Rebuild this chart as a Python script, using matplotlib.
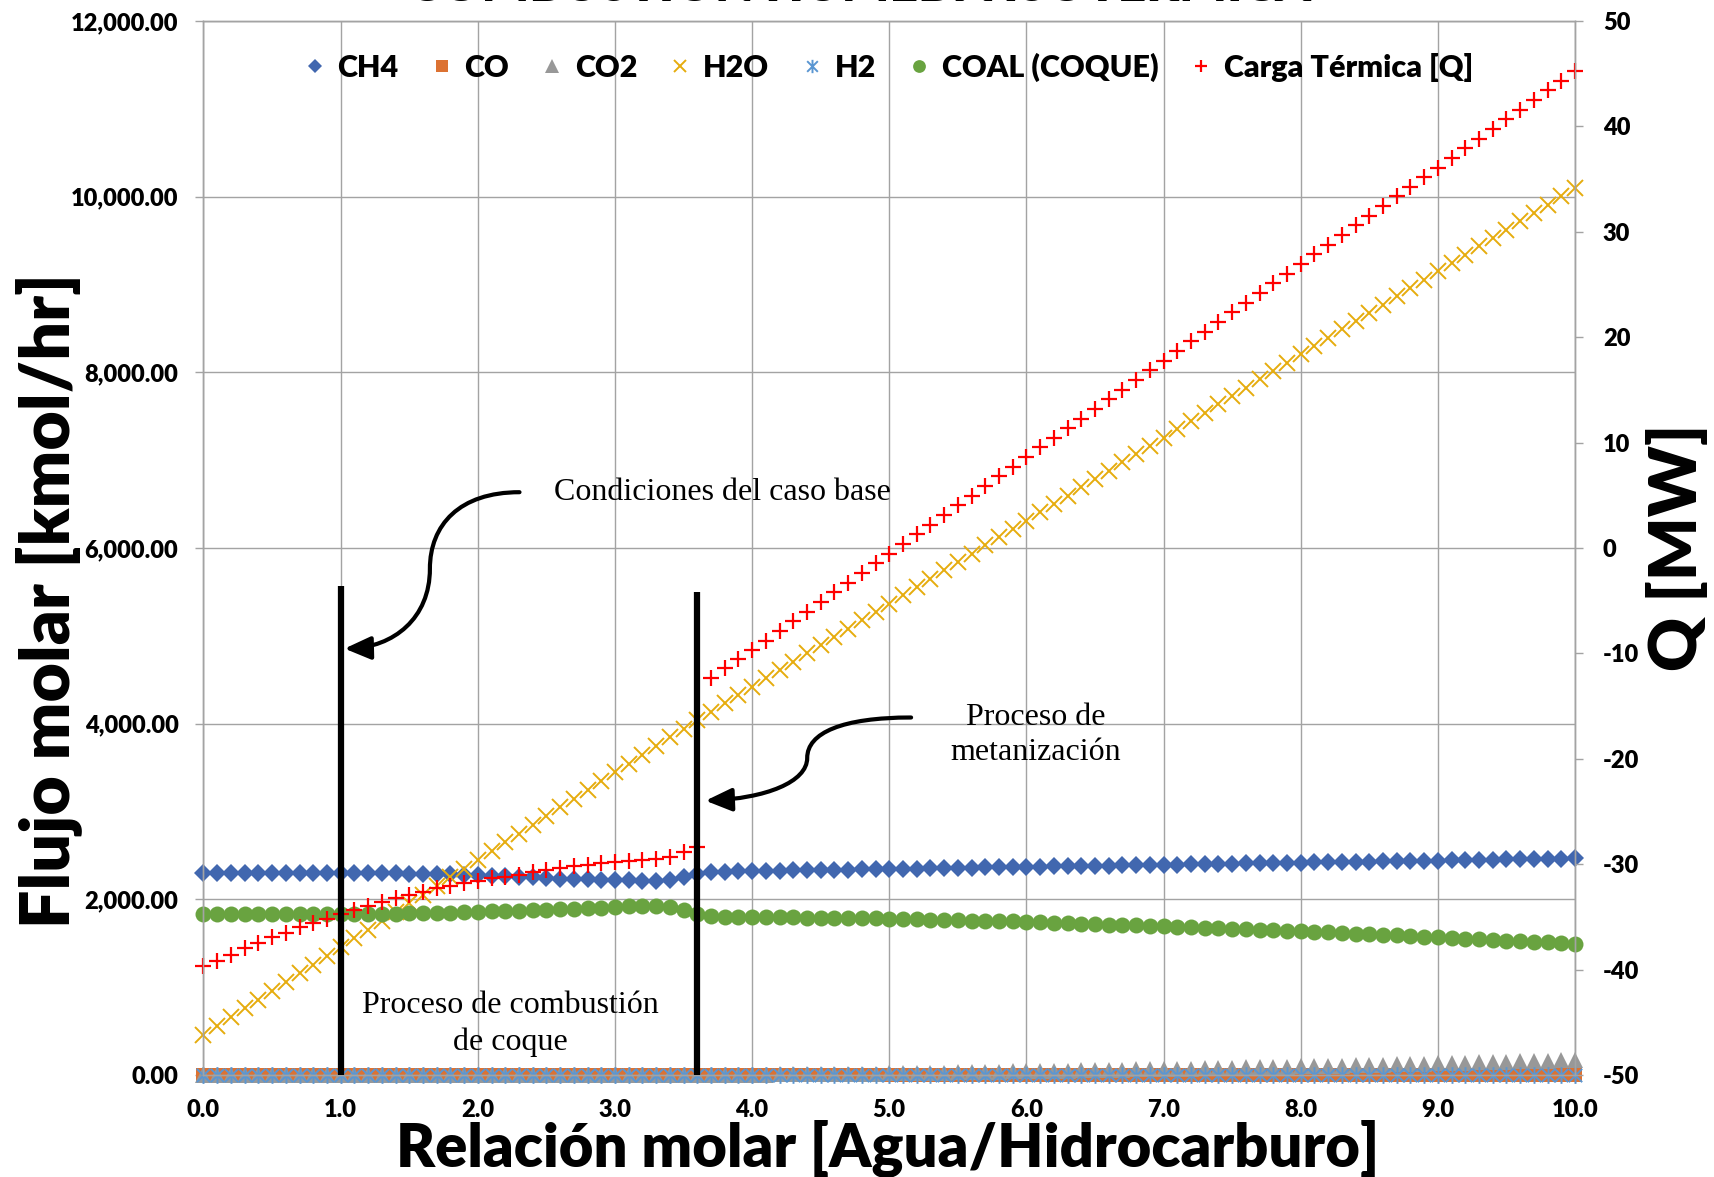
import numpy as np
import matplotlib
matplotlib.use("Agg")
import matplotlib.pyplot as plt
from matplotlib.path import Path
from matplotlib.patches import FancyArrowPatch
from matplotlib.transforms import Affine2D
from matplotlib.lines import Line2D
from matplotlib.ticker import FuncFormatter, MultipleLocator

# Water / hydrocarbon molar ratio sweep
ratio = np.linspace(0.0, 10.0, 101)

ch4 = [
    2302, 2302, 2301, 2301, 2300, 2300, 2299, 2299, 2298, 2298,
    2297, 2297, 2296, 2296, 2295, 2294, 2293, 2290, 2285, 2280,
    2275, 2268, 2262, 2258, 2250, 2243, 2237, 2233, 2228, 2224,
    2220, 2216, 2210, 2210, 2222, 2252, 2288, 2312, 2316, 2320,
    2322, 2325, 2327, 2330, 2332, 2334, 2337, 2339, 2342, 2344,
    2346, 2349, 2351, 2353, 2355, 2358, 2361, 2363, 2365, 2368,
    2370, 2373, 2375, 2377, 2380, 2382, 2384, 2387, 2389, 2392,
    2394, 2396, 2399, 2401, 2404, 2406, 2408, 2411, 2413, 2416,
    2418, 2420, 2423, 2425, 2427, 2430, 2432, 2435, 2437, 2439,
    2442, 2444, 2447, 2449, 2451, 2454, 2456, 2459, 2461, 2463,
    2466]

co = [
    3, 3, 3, 3, 3, 3, 3, 3, 3, 3,
    3, 3, 3, 3, 3, 3, 3, 3, 3, 3,
    3, 3, 3, 3, 3, 3, 3, 3, 3, 3,
    3, 3, 3, 3, 3, 3, 3, 3, 3, 3,
    3, 3, 3, 3, 3, 3, 3, 3, 3, 3,
    3, 3, 3, 3, 3, 3, 3, 3, 3, 3,
    3, 3, 3, 3, 3, 3, 3, 3, 3, 3,
    3, 3, 3, 3, 3, 3, 3, 3, 3, 3,
    3, 3, 3, 3, 3, 3, 3, 3, 3, 3,
    3, 3, 3, 3, 3, 3, 3, 3, 3, 3,
    3]

co2 = [
    0, 0, 0, 0, 0, 0, 0, 0, 0, 0,
    0, 0, 0, 0, 0, 0, 0, 0, 0, 0,
    0, 0, 0, 0, 0, 0, 0, 0, 0, 0,
    0, 0, 0, 0, 0, 0, 1, 1, 2, 3,
    4, 5, 6, 8, 9, 10, 12, 13, 15, 16,
    18, 20, 22, 25, 27, 30, 32, 35, 37, 40,
    42, 45, 47, 50, 53, 55, 58, 60, 63, 66,
    68, 71, 74, 77, 80, 83, 86, 89, 92, 95,
    98, 101, 105, 108, 112, 115, 119, 122, 126, 129,
    133, 137, 141, 145, 149, 153, 156, 160, 164, 168,
    172]

h2o = [
    460, 560, 659, 759, 858, 958, 1057, 1157, 1256, 1356,
    1455, 1555, 1654, 1754, 1853, 1953, 2052, 2152, 2251, 2351,
    2450, 2550, 2649, 2749, 2848, 2948, 3047, 3147, 3246, 3346,
    3445, 3545, 3644, 3744, 3843, 3943, 4042, 4137, 4231, 4326,
    4420, 4515, 4610, 4704, 4799, 4893, 4988, 5083, 5177, 5272,
    5366, 5461, 5556, 5650, 5745, 5839, 5934, 6029, 6123, 6218,
    6312, 6407, 6502, 6596, 6691, 6785, 6880, 6975, 7069, 7164,
    7258, 7353, 7448, 7542, 7637, 7731, 7826, 7921, 8015, 8110,
    8204, 8299, 8394, 8488, 8583, 8677, 8772, 8867, 8961, 9056,
    9150, 9245, 9340, 9434, 9529, 9623, 9718, 9813, 9907, 10002,
    10096]

h2 = [
    0, 0, 0, 0, 0, 0, 0, 0, 0, 0,
    0, 0, 0, 0, 0, 0, 0, 0, 0, 0,
    0, 0, 0, 0, 0, 0, 0, 0, 0, 0,
    0, 0, 0, 0, 0, 0, 0, 0, 0, 0,
    0, 0, 0, 0, 0, 0, 0, 0, 0, 0,
    0, 0, 0, 0, 0, 0, 0, 0, 0, 0,
    0, 0, 0, 0, 0, 0, 0, 0, 0, 0,
    0, 0, 0, 0, 0, 0, 0, 0, 0, 0,
    0, 0, 0, 0, 0, 0, 0, 0, 0, 0,
    0, 0, 0, 0, 0, 0, 0, 0, 0, 0,
    0]

coal = [
    1828, 1828, 1829, 1829, 1830, 1830, 1831, 1831, 1832, 1832,
    1833, 1834, 1835, 1836, 1838, 1840, 1842, 1845, 1849, 1854,
    1858, 1863, 1867, 1872, 1876, 1880, 1885, 1891, 1898, 1905,
    1912, 1919, 1924, 1929, 1918, 1880, 1830, 1810, 1804, 1802,
    1800, 1798, 1796, 1794, 1792, 1790, 1788, 1786, 1784, 1782,
    1780, 1776, 1773, 1769, 1766, 1762, 1758, 1755, 1751, 1748,
    1744, 1739, 1734, 1729, 1724, 1719, 1713, 1708, 1703, 1698,
    1693, 1688, 1682, 1677, 1672, 1666, 1661, 1656, 1651, 1645,
    1640, 1633, 1626, 1618, 1611, 1604, 1597, 1590, 1582, 1575,
    1568, 1561, 1553, 1546, 1538, 1531, 1524, 1516, 1509, 1501,
    1494]

# Heat duty [MW], right axis
q_mw = [
    -39.70, -39.16, -38.59, -37.99, -37.45, -36.94, -36.50, -35.99, -35.55, -35.17,
    -34.76, -34.35, -33.97, -33.56, -33.24, -32.93, -32.61, -32.29, -32.04, -31.82,
    -31.55, -31.35, -31.18, -31.03, -30.75, -30.52, -30.33, -30.17, -30.05, -29.92,
    -29.79, -29.70, -29.60, -29.51, -29.29, -28.81, -28.34, -12.30, -11.43, -10.56,
    -9.70, -8.78, -7.87, -6.95, -6.04, -5.12, -4.20, -3.29, -2.37, -1.46,
    -0.54, 0.38, 1.29, 2.21, 3.12, 4.04, 4.96, 5.87, 6.79, 7.70,
    8.62, 9.54, 10.45, 11.37, 12.28, 13.20, 14.12, 15.03, 15.95, 16.86,
    17.78, 18.70, 19.61, 20.53, 21.44, 22.36, 23.28, 24.19, 25.11, 26.02,
    26.94, 27.86, 28.77, 29.69, 30.60, 31.52, 32.44, 33.35, 34.27, 35.18,
    36.10, 37.02, 37.93, 38.85, 39.76, 40.68, 41.60, 42.51, 43.43, 44.34,
    45.26]

series_labels = ["CH4", "CO", "CO2", "H2O", "H2", "COAL (COQUE)", "Carga Térmica [Q]"]

# Stage boundaries (ratio) and the height of their marker lines [kmol/hr]
stage_x = [1.0, 3.6]
stage_top = [5566, 5504]

plt.rcParams["font.family"] = ["Lato", "DejaVu Sans"]
plt.rcParams["font.weight"] = "heavy"

W, H = 1715, 1177
fig = plt.figure(figsize=(W / 100, H / 100), dpi=100)
fig.patch.set_facecolor("white")
ax = fig.add_axes([203.5 / W, 1 - 1075 / H, 1371.5 / W, 1054 / H])
ax2 = ax.twinx()

# pixel transform (origin at top-left of the figure)
px = Affine2D().scale(1 / W, -1 / H).translate(0, 1) + fig.transFigure

grid_c = "#A3A3A3"
ax.set_xlim(0, 10)
ax.set_ylim(0, 12000)
ax2.set_ylim(-50, 50)
ax.xaxis.set_major_locator(MultipleLocator(1.0))
ax.yaxis.set_major_locator(MultipleLocator(2000))
ax2.yaxis.set_major_locator(MultipleLocator(10))
ax.grid(True, color=grid_c, lw=1.0)
ax.set_axisbelow(True)
for a in (ax, ax2):
    for s in a.spines.values():
        s.set_color(grid_c)
        s.set_linewidth(1.0)

ax.xaxis.set_major_formatter(FuncFormatter(lambda v, p: f"{v:.1f}"))
ax.yaxis.set_major_formatter(FuncFormatter(lambda v, p: f"{v:,.2f}"))
ax2.yaxis.set_major_formatter(FuncFormatter(lambda v, p: f"{v:.0f}"))
ax.tick_params(axis="y", direction="out", length=6, width=1, color=grid_c,
               pad=12, labelsize=17)
ax.tick_params(axis="x", direction="out", length=6, width=1, color=grid_c,
               pad=11, labelsize=17)
ax2.tick_params(axis="y", direction="out", length=6, width=1, color=grid_c,
                pad=14, labelsize=17)

# asterisk marker: an X crossed by a vertical bar
star = Path([(0, -1), (0, 1), (-0.8, -0.8), (0.8, 0.8), (-0.8, 0.8), (0.8, -0.8)],
            [Path.MOVETO, Path.LINETO, Path.MOVETO, Path.LINETO, Path.MOVETO, Path.LINETO])

styles = [
    dict(marker="D", ms=9.0, color="#4167AF", mew=0),
    dict(marker="s", ms=10.0, color="#DC7232", mew=0),
    dict(marker="^", ms=12.0, color="#989898", mew=0),
    dict(marker="x", ms=11.0, color="#E6AC0E", mew=1.4),
    dict(marker=star, ms=12.0, color="#5A96D2", mew=1.4),
    dict(marker="o", ms=11.5, color="#69A340", mew=0),
    dict(marker="+", ms=11.0, color="#FF0000", mew=1.6),
]

left_series = [ch4, co, co2, h2o, h2, coal]
for vals, st in zip(left_series, styles[:6]):
    ax.plot(ratio, vals, linestyle="none", clip_on=False, **st)
ax2.plot(ratio, q_mw, linestyle="none", clip_on=False, **styles[6])

# stage boundary lines
for sx, top in zip(stage_x, stage_top):
    ax2.plot([sx, sx], [0, top], transform=ax.transData, color="black",
             lw=4.5, solid_capstyle="butt", zorder=6, clip_on=False)

# legend
handles = [Line2D([], [], linestyle="none", **st) for st in styles]
leg = ax2.legend(handles, series_labels, loc="center", bbox_to_anchor=(0.499, 0.956),
                 ncol=7, frameon=False, fontsize=22, handlelength=0.8,
                 handletextpad=0.35, columnspacing=1.0, markerscale=0.8)

# axis titles
fig.text(49, 601, "Flujo molar [kmol/hr]", transform=px, rotation=90,
         ha="center", va="center", fontsize=49)
fig.text(1677, 547, "Q [MW]", transform=px, rotation=90,
         ha="center", va="center", fontsize=48)
fig.text(888, 1148, "Relación molar [Agua/Hidrocarburo]", transform=px,
         ha="center", va="center", fontsize=43)
fig.text(859, 1, "COMBUSTIÓN HÚMEDA ISOTÉRMICA", transform=px,
         ha="center", va="baseline", fontsize=36)

# stage notes
serif = ["Liberation Serif", "DejaVu Serif"]
fig.text(722, 493, "Condiciones del caso base", transform=px, ha="center",
         va="center", fontsize=23, family=serif, weight="normal")
fig.text(1036, 735, "Proceso de\nmetanización", transform=px, ha="center",
         va="center", fontsize=23, family=serif, weight="normal", linespacing=1.3)
fig.text(510, 1024, "Proceso de combustión\nde coque", transform=px, ha="center",
         va="center", fontsize=23, family=serif, weight="normal", linespacing=1.3)

# curved pointer arrows
C4 = Path.CURVE4
arrow_paths = [
    Path([(519.5, 492.2), (459.4, 492.2), (429.9, 525.0), (429.9, 568.8),
          (429.9, 618.0), (393.8, 647.5), (344.5, 648.6)],
         [Path.MOVETO, C4, C4, C4, C4, C4, C4]),
    Path([(911.1, 717.5), (842.2, 717.5), (807.2, 732.8), (807.2, 758.0),
          (807.2, 782.0), (765.7, 798.5), (705.5, 800.7)],
         [Path.MOVETO, C4, C4, C4, C4, C4, C4]),
]
for pth in arrow_paths:
    arr = FancyArrowPatch(path=pth, transform=px,
                          arrowstyle="-|>,head_length=0.8,head_width=0.35",
                          mutation_scale=20, lw=3.0, color="black", zorder=10)
    fig.add_artist(arr)

fig.savefig("out.png", dpi=100, facecolor="white")
